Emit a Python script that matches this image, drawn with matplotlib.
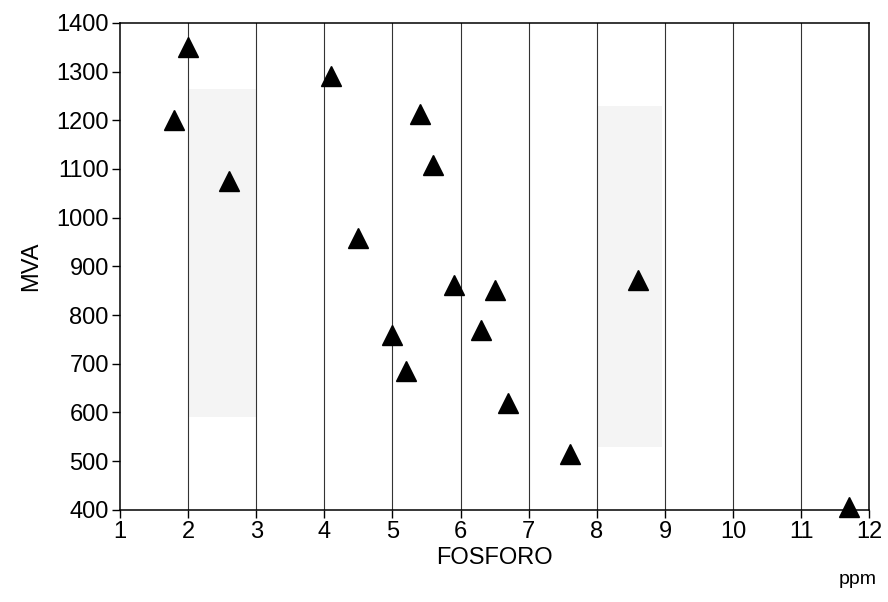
import matplotlib
matplotlib.use('Agg')
import matplotlib.pyplot as plt

plt.rcParams['font.family'] = ['Liberation Sans', 'DejaVu Sans']

# data
fosforo = [1.8, 2.0, 2.6, 4.1, 4.5, 5.0, 5.2, 5.4, 5.6, 5.9, 6.3, 6.5, 6.7, 7.6, 8.6, 11.7]
mva = [1200, 1350, 1075, 1290, 958, 760, 685, 1212, 1108, 862, 770, 852, 620, 515, 873, 405]

x_ticks = list(range(1, 13))
y_ticks = list(range(400, 1401, 100))

fig = plt.figure(figsize=(8.88, 6.02), dpi=100)
ax = fig.add_axes([0.135, 0.153, 0.844, 0.809])

# faint grey patches from the scan
ax.fill_between([2, 3], 590, 1265, color='#f4f4f4', lw=0, zorder=0)
ax.fill_between([8, 8.95], 530, 1230, color='#f4f4f4', lw=0, zorder=0)

# vertical grid lines
for xv in x_ticks[1:-1]:
    ax.axvline(xv, color='#333333', lw=0.8, zorder=1)

ax.plot(fosforo, mva, linestyle='none', marker='^', ms=14,
        color='black', zorder=3, clip_on=False)

ax.set_xlim(1, 12)
ax.set_ylim(400, 1400)
ax.set_xticks(x_ticks)
ax.set_yticks(y_ticks)
ax.tick_params(direction='out', length=6, width=1, labelsize=17, pad=2)

for s in ax.spines.values():
    s.set_linewidth(1.1)

ax.set_xlabel('FOSFORO', fontsize=17, labelpad=3)
ax.set_ylabel('MVA', fontsize=17, labelpad=10)
fig.text(0.966, 0.023, 'ppm', fontsize=14, ha='center', va='bottom')

fig.savefig('out.png', dpi=100)
